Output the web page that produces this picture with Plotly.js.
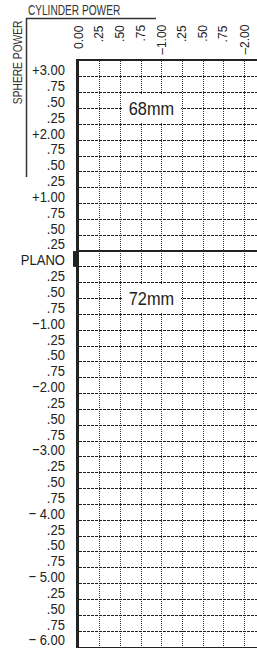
<!DOCTYPE html>
<html>
<head>
<meta charset="utf-8">
<script src="https://cdn.plot.ly/plotly-3.0.1.min.js"></script>
<style>
  html, body { margin: 0; padding: 0; background: #fff; }
  #chart { width: 257px; height: 648px; }
</style>
</head>
<body>
<div id="chart"></div>
<script>
// ---- data ----
const sphereValues = [3.00, 2.75, 2.50, 2.25, 2.00, 1.75, 1.50, 1.25, 1.00, 0.75, 0.50, 0.25,
  0.00, -0.25, -0.50, -0.75, -1.00, -1.25, -1.50, -1.75, -2.00, -2.25, -2.50, -2.75,
  -3.00, -3.25, -3.50, -3.75, -4.00, -4.25, -4.50, -4.75, -5.00, -5.25, -5.50, -5.75, -6.00];
const sphereLabels = ["+3.00", ".75", ".50", ".25", "+2.00", ".75", ".50", ".25", "+1.00", ".75", ".50", ".25",
  "PLANO", ".25", ".50", ".75", "\u22121.00", ".25", ".50", ".75", "\u22122.00", ".25", ".50", ".75",
  "\u22123.00", ".25", ".50", ".75", "\u2212 4.00", ".25", ".50", ".75", "\u2212 5.00", ".25", ".50", ".75", "\u2212 6.00"];
const cylinderValues = [0.00, -0.25, -0.50, -0.75, -1.00, -1.25, -1.50, -1.75, -2.00];
const cylinderLabels = ["0.00", ".25", ".50", ".75", "\u20131.00", ".25", ".50", ".75", "\u20132.00"];
const zoneLabels = ["68mm", "72mm"];
const zoneSphere = [2.50, -0.50];
const zoneCylinder = [-0.875, -0.875];
const zoneBoundarySphere = 0.25;
const planoSphere = 0.00;

// ---- layout helpers ----
const W = 257, H = 648;
const M = { l: 79, r: 0, t: 61, b: 1 };
const pw = W - M.l - M.r, ph = H - M.t - M.b;
const px2x = p => (p - M.l) / pw;          // pixel -> paper x
const px2y = p => (H - M.b - p) / ph;      // pixel -> paper y

const ink = '#222';
const sans = 'Liberation Sans, Arial, sans-serif';

const annotations = [];
const condenseAnn = {};   // annotation index -> horizontal text condensation
// cylinder column labels (rotated, end-aligned at top)
cylinderValues.forEach((v, i) => {
  annotations.push({
    xref: 'x', yref: 'paper', x: v, y: px2y(23), xanchor: 'center', yanchor: 'top',
    text: cylinderLabels[i], textangle: -90, showarrow: false,
    font: { family: sans, size: 12, color: ink }
  });
});
// zone labels
zoneLabels.forEach((t, i) => {
  condenseAnn[annotations.length] = 0.86;
  annotations.push({
    xref: 'x', yref: 'y', x: zoneCylinder[i], y: zoneSphere[i], xanchor: 'center', yanchor: 'middle',
    text: t, showarrow: false, font: { family: sans, size: 19, color: ink }
  });
});
condenseAnn[annotations.length] = 0.7;
annotations.push({
  xref: 'paper', yref: 'paper', x: px2x(74), y: px2y(10), xanchor: 'center', yanchor: 'middle',
  text: 'CYLINDER POWER', showarrow: false, font: { family: sans, size: 14.5, color: '#333' }
});
condenseAnn[annotations.length] = 0.76;
annotations.push({
  xref: 'paper', yref: 'paper', x: px2x(17.5), y: px2y(62), xanchor: 'center', yanchor: 'middle',
  text: 'SPHERE POWER', textangle: -90, showarrow: false, font: { family: sans, size: 13.5, color: '#333' }
});

const shapes = [];
// white boxes behind zone labels
zoneLabels.forEach((t, i) => {
  shapes.push({
    type: 'rect', xref: 'x', yref: 'y', layer: 'above',
    x0: zoneCylinder[i] + 0.375 - 0.02, x1: zoneCylinder[i] - 0.375 + 0.02,
    y0: zoneSphere[i] - 0.25 + 0.025, y1: zoneSphere[i] + 0.25 - 0.025,
    fillcolor: '#fff', line: { width: 0 }
  });
});
// zone boundary solid line
shapes.push({
  type: 'line', xref: 'paper', yref: 'y', x0: 0, x1: 1, y0: zoneBoundarySphere, y1: zoneBoundarySphere,
  line: { color: ink, width: 2 }, layer: 'above'
});
// black marker at PLANO
shapes.push({
  type: 'rect', xref: 'paper', yref: 'y', x0: px2x(73), x1: px2x(79),
  y0: planoSphere, y1: zoneBoundarySphere, fillcolor: ink, line: { width: 0 }, layer: 'above'
});
// header bracket lines
shapes.push({
  type: 'line', xref: 'paper', yref: 'paper', x0: px2x(26), x1: px2x(156), y0: px2y(18.5), y1: px2y(18.5),
  line: { color: '#333', width: 1.5 }
});
shapes.push({
  type: 'line', xref: 'paper', yref: 'paper', x0: px2x(26.5), x1: px2x(26.5), y0: px2y(18), y1: px2y(177),
  line: { color: '#333', width: 1.5 }
});

const layout = {
  width: W, height: H,
  margin: M,
  paper_bgcolor: '#fff', plot_bgcolor: '#fff',
  showlegend: false,
  xaxis: {
    side: 'top', range: [0, -2.15], tickmode: 'array', tickvals: cylinderValues,
    showticklabels: false, ticks: '', showgrid: true, gridcolor: '#333', gridwidth: 1,
    griddash: '1px,1px', zeroline: false, showline: true, linecolor: ink, linewidth: 2, mirror: true,
    fixedrange: true
  },
  yaxis: {
    range: [-6.0, 3.25], tickmode: 'array', tickvals: sphereValues, ticktext: sphereLabels,
    ticks: '', ticklabelstandoff: 8, ticklabelshift: -7, ticklabeloverflow: 'allow',
    tickfont: { family: sans, size: 15.5, color: ink },
    showgrid: true, gridcolor: '#222', gridwidth: 1, griddash: '3px,1px',
    zeroline: false, showline: true, linecolor: ink, linewidth: 3, mirror: false,
    fixedrange: true
  },
  annotations: annotations,
  shapes: shapes
};

// squeeze text along its reading direction, keeping its anchor point fixed
function condense(el, f) {
  const bb = el.getBBox();
  const anchor = el.getAttribute('text-anchor') || getComputedStyle(el).textAnchor || 'start';
  const px = anchor === 'end' ? bb.x + bb.width : (anchor === 'middle' ? bb.x + bb.width / 2 : bb.x);
  const prev = el.getAttribute('transform') || '';
  el.setAttribute('transform', (prev + ' translate(' + px + ',0) scale(' + f + ',1) translate(' + (-px) + ',0)').trim());
}

Plotly.newPlot('chart', [], layout, { staticPlot: true, displayModeBar: false }).then(gd => {
  gd.querySelectorAll('.ytick text').forEach(el => condense(el, 0.84));
  Object.keys(condenseAnn).forEach(k => {
    const g = gd.querySelector('g.annotation[data-index="' + k + '"] text');
    if (g) condense(g, condenseAnn[k]);
  });
});
</script>
</body>
</html>
